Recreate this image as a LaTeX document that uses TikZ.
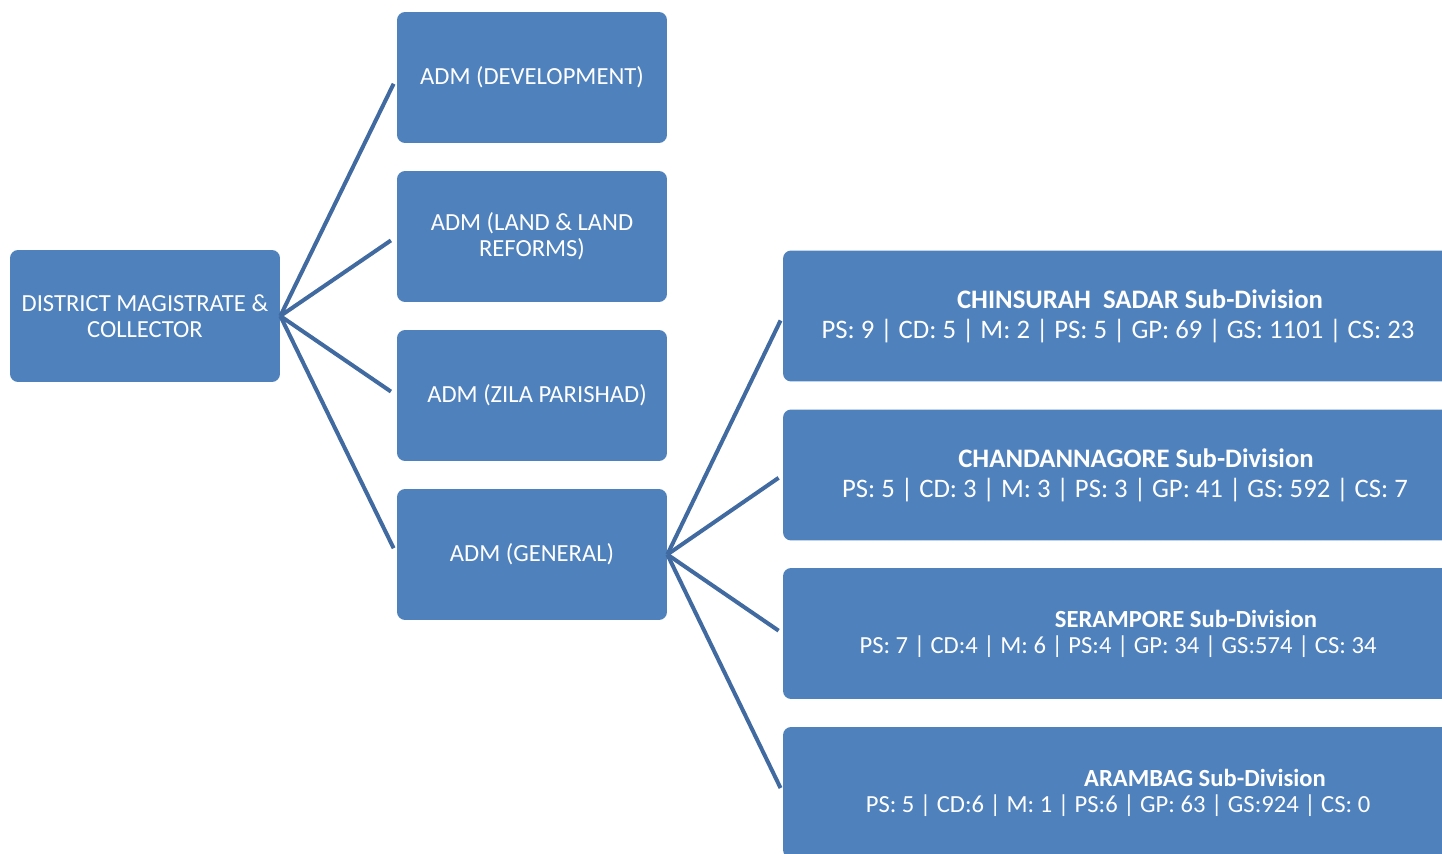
\documentclass[tikz,border=0pt]{standalone}
\usepackage{fontspec}
\setmainfont{Carlito}
\definecolor{boxblue}{RGB}{79,129,189}
\definecolor{linkblue}{RGB}{64,106,160}

\begin{document}
\begin{tikzpicture}[x=0.02cm,y=-0.02cm,
    box/.style={fill=boxblue,rounded corners=0.16cm,text=white,align=center,
        inner sep=0pt,font=\fontsize{14}{14.7}\selectfont},
    adm/.style={box,minimum width=5.4cm,minimum height=2.62cm},
    sub/.style={box,minimum width=13.4cm,minimum height=2.62cm},
    link/.style={draw=linkblue,line width=0.08cm}]
    \useasboundingbox (0,0) rectangle (1442,854);
    \clip (0,0) rectangle (1442,854);
    \node[adm,minimum height=2.64cm] (dm) at (145,316)
            {DISTRICT MAGISTRATE \&\\COLLECTOR};
    \node[adm] (adm1) at (532,77.5)
            {ADM (DEVELOPMENT)};
    \node[adm] (adm2) at (532,236.5)
            {ADM (LAND \& LAND\\REFORMS)};
    \node[adm] (adm3) at (532,395.5)
            {\hspace*{0.2cm}ADM (ZILA PARISHAD)};
    \node[adm] (adm4) at (532,554.5)
            {ADM (GENERAL)};
    \node[sub,font=\fontsize{15.2}{17}\selectfont] (sd1) at (1118,316)
            {\hspace*{0.88cm}\textbf{CHINSURAH\ \ SADAR Sub-Division}\\
             PS: 9 | CD: 5 | M: 2 | PS: 5 | GP: 69 | GS: 1101 | CS: 23};
    \node[sub,font=\fontsize{15.2}{17}\selectfont] (sd2) at (1118,475)
            {\hspace*{0.72cm}\textbf{CHANDANNAGORE Sub-Division}\\
             \hspace*{0.28cm}PS: 5 | CD: 3 | M: 3 | PS: 3 | GP: 41 | GS: 592 | CS: 7};
    \node[sub] (sd3) at (1118,633.5)
            {\hspace*{2.72cm}\textbf{SERAMPORE Sub-Division}\\
             PS: 7 | CD:4 | M: 6 | PS:4 | GP: 34 | GS:574 | CS: 34};
    \node[sub] (sd4) at (1118,792.5)
            {\hspace*{3.48cm}\textbf{ARAMBAG Sub-Division}\\
             PS: 5 | CD:6 | M: 1 | PS:6 | GP: 63 | GS:924 | CS: 0};
    % lines from the collector
    \draw[link,shorten >=0.14cm] (dm.east) -- (adm1.west);
    \draw[link,shorten >=0.14cm] (dm.east) -- (adm2.west);
    \draw[link,shorten >=0.14cm] (dm.east) -- (adm3.west);
    \draw[link,shorten >=0.14cm] (dm.east) -- (adm4.west);
    % lines to the sub-divisions
    \draw[link,shorten >=0.1cm] (adm4.east) -- (sd1.west);
    \draw[link,shorten >=0.1cm] (adm4.east) -- (sd2.west);
    \draw[link,shorten >=0.1cm] (adm4.east) -- (sd3.west);
    \draw[link,shorten >=0.1cm] (adm4.east) -- (sd4.west);
\end{tikzpicture}
\end{document}
